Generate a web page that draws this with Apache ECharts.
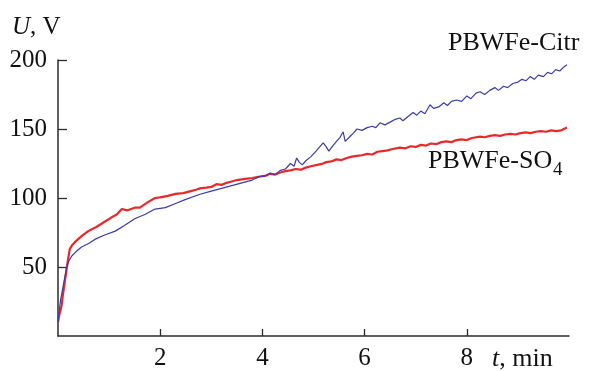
<!DOCTYPE html>
<html>
<head>
<meta charset="utf-8">
<script src="https://cdn.jsdelivr.net/npm/echarts@6/dist/echarts.min.js"></script>
<style>
  html, body { margin: 0; padding: 0; background: #fff; }
  #main { width: 589px; height: 371px; }
</style>
</head>
<body>
<div id="main"></div>
<script>
// PBWFe-SO4 (red)
var tRed = [0, 0.03, 0.07, 0.1, 0.14, 0.19, 0.23, 0.28, 0.33, 0.45, 0.59, 0.75, 0.92, 1.05, 1.15, 1.25, 1.35, 1.5, 1.6, 1.76,
    1.9, 2.0, 2.15, 2.3, 2.45, 2.6, 2.7, 2.78, 2.9, 3.0, 3.1, 3.2, 3.3, 3.4, 3.5, 3.6, 3.7, 3.8, 3.95, 4.05,
    4.15, 4.25, 4.35, 4.45, 4.55, 4.65, 4.75, 4.85, 4.95, 5.07, 5.15, 5.25, 5.35, 5.45, 5.55, 5.65, 5.75, 5.85, 5.95, 6.05,
    6.15, 6.25, 6.35, 6.45, 6.55, 6.69, 6.8, 6.9, 7.0, 7.1, 7.2, 7.3, 7.4, 7.5, 7.6, 7.7, 7.8, 7.9, 8.0, 8.1,
    8.26, 8.35, 8.45, 8.55, 8.65, 8.75, 8.85, 8.95, 9.05, 9.15, 9.25, 9.35, 9.45, 9.55, 9.65, 9.75, 9.85, 9.9, 9.96];
var uRed = [10, 16, 22, 31, 41, 54, 63, 66, 68, 72, 76, 79, 83, 86, 88, 92, 91, 93, 93, 97,
    100, 100.5, 101.5, 103, 103.5, 105, 106, 107, 107.5, 108, 110, 109.5, 111, 112, 113, 113.5, 114, 114.5, 115.6, 116,
    117.5, 117, 118.5, 119.5, 120, 121, 120.5, 122, 123, 124, 124.5, 126, 126.5, 128, 127.5, 129, 130, 130.5, 131, 132,
    131.5, 133.5, 134, 134.5, 135.5, 136.5, 136, 137.5, 137, 138.5, 138, 139.5, 139, 140.5, 141, 140.5, 142, 142.5, 142, 143.5,
    144.5, 144, 145, 145.5, 145, 146, 146.5, 146, 147, 147.5, 147, 148, 148.5, 148, 149, 148.5, 149, 150, 151];

// PBWFe-Citr (blue)
var tBlue = [0, 0.02, 0.05, 0.1, 0.17, 0.22, 0.27, 0.35, 0.46, 0.6, 0.72, 0.9, 1.12, 1.3, 1.5, 1.7, 1.9, 2.1, 2.3, 2.5,
    2.78, 3.0, 3.2, 3.4, 3.6, 3.8, 3.95, 4.05, 4.15, 4.25, 4.35, 4.45, 4.55, 4.62, 4.67, 4.72, 4.78, 4.85, 4.95, 5.05,
    5.12, 5.19, 5.25, 5.3, 5.38, 5.45, 5.52, 5.58, 5.62, 5.7, 5.78, 5.85, 5.95, 6.05, 6.15, 6.22, 6.3, 6.4, 6.5, 6.6,
    6.69, 6.75, 6.85, 6.95, 7.02, 7.1, 7.18, 7.28, 7.35, 7.45, 7.55, 7.62, 7.7, 7.8, 7.9, 8.0, 8.08, 8.18, 8.26, 8.35,
    8.45, 8.55, 8.62, 8.72, 8.8, 8.9, 9.0, 9.08, 9.16, 9.24, 9.32, 9.4, 9.5, 9.58, 9.66, 9.74, 9.82, 9.9, 9.96];
var uBlue = [10, 17, 26, 36, 50, 55, 58, 61, 64.5, 67, 70, 73, 76, 80, 85, 88, 92, 93, 96, 99,
    102.7, 105, 107, 109, 111, 113, 115.6, 116, 118, 117, 120, 121, 125, 123, 129, 126, 124, 127, 130, 134,
    137, 140, 137, 134, 138, 141, 144, 148, 141, 144, 147, 150, 149, 151, 152, 151, 154.5, 153, 155, 157,
    158, 156, 159, 162, 160, 163, 161, 167.6, 165, 166, 169, 167, 170, 171, 170, 174, 172, 176, 177, 175,
    178, 180, 178, 181, 180, 183, 184, 186, 185, 188, 186, 189, 188, 191, 190, 193, 192, 195, 196.5];

var xTicks = [2, 4, 6, 8];
var yTicks = [50, 100, 150, 200];

var pairs = function(t, u) {
    var out = [];
    for (var i = 0; i < t.length; i++) {
        out.push([t[i], u[i]]);
    }
    return out;
};

var font = 'Liberation Serif';
var axisColor = '#2b2b2b';

var option = {
    animation: false,
    backgroundColor: '#fff',
    grid: { left: 58, right: 20, top: 60, bottom: 33 },
    xAxis: {
        type: 'value',
        min: 0,
        max: 10,
        interval: 2,
        splitLine: { show: false },
        axisLine: { lineStyle: { color: axisColor, width: 1.5 } },
        axisTick: { inside: true, length: 7, customValues: xTicks, lineStyle: { color: axisColor, width: 1.3 } },
        axisLabel: { customValues: xTicks, margin: 10, color: '#111', fontFamily: font, fontSize: 25 }
    },
    yAxis: {
        type: 'value',
        min: 0,
        max: 200,
        interval: 50,
        splitLine: { show: false },
        axisLine: { show: true, lineStyle: { color: axisColor, width: 1.5 } },
        axisTick: { show: true, inside: true, length: 9, customValues: yTicks, lineStyle: { color: axisColor, width: 1.3 } },
        axisLabel: { customValues: yTicks, margin: 11, color: '#111', fontFamily: font, fontSize: 25 }
    },
    graphic: [
        {
            type: 'text', x: 12, y: 27,
            style: {
                text: '{i|U}, V', verticalAlign: 'middle', fill: '#111',
                font: '25px "Liberation Serif"',
                rich: { i: { fontStyle: 'italic', fontFamily: font, fontSize: 25 } }
            }
        },
        {
            type: 'text', x: 492, y: 359,
            style: {
                text: '{i|t}, min', verticalAlign: 'middle', fill: '#111',
                font: '26px "Liberation Serif"',
                rich: { i: { fontStyle: 'italic', fontFamily: font, fontSize: 26 } }
            }
        },
        {
            type: 'text', x: 448, y: 43,
            style: { text: 'PBWFe-Citr', verticalAlign: 'middle', fill: '#111', font: '26px "Liberation Serif"' }
        },
        {
            type: 'text', x: 428, y: 161,
            style: { text: 'PBWFe-SO', verticalAlign: 'middle', fill: '#111', font: '26px "Liberation Serif"' }
        },
        {
            type: 'text', x: 553, y: 170,
            style: { text: '4', verticalAlign: 'middle', fill: '#111', font: '19px "Liberation Serif"' }
        }
    ],
    series: [
        {
            name: 'PBWFe-SO4',
            type: 'line',
            showSymbol: false,
            data: pairs(tRed, uRed),
            lineStyle: { color: '#e8292b', width: 2.2 },
            z: 2
        },
        {
            name: 'PBWFe-Citr',
            type: 'line',
            showSymbol: false,
            data: pairs(tBlue, uBlue),
            lineStyle: { color: '#3b3ba8', width: 1.2 },
            z: 3
        }
    ]
};

var myChart = echarts.init(document.getElementById('main'));
myChart.setOption(option);
</script>
</body>
</html>
